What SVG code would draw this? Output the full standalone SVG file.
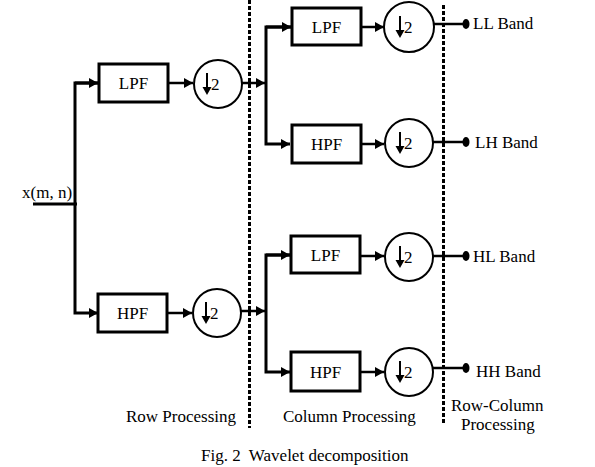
<svg xmlns="http://www.w3.org/2000/svg" width="595" height="467" viewBox="0 0 595 467">
<defs>
<style>
text{font-family:"Liberation Serif","Times New Roman",serif;font-size:17px;fill:#000}
.box{fill:#fff;stroke:#000;stroke-width:3}
.circ{fill:#fff;stroke:#000;stroke-width:2}
.ln{fill:none;stroke:#000;stroke-width:2.5}
.tr{stroke-width:3}
.dash{fill:none;stroke:#000;stroke-width:3;stroke-dasharray:4 2}
.c{text-anchor:middle}
</style>
<marker id="ah" markerUnits="userSpaceOnUse" markerWidth="10" markerHeight="10" refX="9" refY="5" orient="auto">
<path d="M0,0 L9,5 L0,10 Z" fill="#000"/>
</marker>
<g id="down">
<line x1="0" y1="-11" x2="0" y2="5" stroke="#000" stroke-width="2"/>
<path d="M-4.5,3 L4.5,3 L0,11 Z" fill="#000"/>
</g>
</defs>
<rect width="595" height="467" fill="#fff"/>

<g id="dividers">
<line class="dash" x1="249.5" y1="0" x2="249.5" y2="428"/>
<line class="dash" x1="443.5" y1="5" x2="443.5" y2="423"/>
</g>

<g id="connectors">
<line class="ln tr" x1="33" y1="204" x2="77" y2="204"/>
<polyline class="ln tr" points="99,83 75,83 75,313 98,313" marker-end="url(#ah)"/>
<line class="ln tr" x1="75" y1="83" x2="98" y2="83" marker-end="url(#ah)"/>
<line class="ln" x1="168" y1="83" x2="193" y2="83" marker-end="url(#ah)"/>
<line class="ln" x1="167" y1="313" x2="192" y2="313" marker-end="url(#ah)"/>
<line class="ln" x1="242" y1="83" x2="265" y2="83" marker-end="url(#ah)"/>
<line class="ln" x1="241" y1="311" x2="265" y2="311" marker-end="url(#ah)"/>
<polyline class="ln tr" points="291,27 266,27 266,144 290,144" marker-end="url(#ah)"/>
<line class="ln tr" x1="266" y1="27" x2="291" y2="27" marker-end="url(#ah)"/>
<polyline class="ln tr" points="290,255 266,255 266,372 290,372" marker-end="url(#ah)"/>
<line class="ln tr" x1="266" y1="255" x2="290" y2="255" marker-end="url(#ah)"/>
<line class="ln" x1="361" y1="27" x2="384" y2="27" marker-end="url(#ah)"/>
<line class="ln" x1="361" y1="144" x2="384" y2="144" marker-end="url(#ah)"/>
<line class="ln" x1="360" y1="256" x2="384" y2="256" marker-end="url(#ah)"/>
<line class="ln" x1="360" y1="372" x2="384" y2="372" marker-end="url(#ah)"/>
<line class="ln" x1="434" y1="24" x2="465" y2="24"/>
<line class="ln" x1="433" y1="142" x2="465" y2="142"/>
<line class="ln" x1="433" y1="256" x2="465" y2="256"/>
<line class="ln" x1="433" y1="368" x2="465" y2="368"/>
</g>

<g id="input"><text x="22" y="198">x(m, n)</text></g>

<g id="lpf1"><rect class="box" x="99" y="64" width="69" height="38"/><text class="c" x="133.5" y="89">LPF</text></g>
<g id="hpf1"><rect class="box" x="98" y="294" width="69" height="38"/><text class="c" x="132.5" y="319">HPF</text></g>
<g id="ds1"><circle class="circ" cx="218" cy="84" r="24"/><use href="#down" x="207" y="84"/><text x="211" y="90">2</text></g>
<g id="ds2"><circle class="circ" cx="217" cy="313" r="24"/><use href="#down" x="206" y="313"/><text x="210" y="319">2</text></g>

<g id="lpf2"><rect class="box" x="292" y="8" width="69" height="37"/><text class="c" x="326.5" y="33">LPF</text></g>
<g id="hpf2"><rect class="box" x="292" y="125" width="69" height="38"/><text class="c" x="326.5" y="150">HPF</text></g>
<g id="lpf3"><rect class="box" x="291" y="236" width="69" height="37"/><text class="c" x="325.5" y="261">LPF</text></g>
<g id="hpf3"><rect class="box" x="291" y="352" width="69" height="39"/><text class="c" x="325.5" y="378">HPF</text></g>

<g id="ds3"><circle class="circ" cx="409" cy="27" r="25"/><use href="#down" x="400" y="27"/><text x="404" y="33">2</text></g>
<g id="ds4"><circle class="circ" cx="409" cy="143" r="24"/><use href="#down" x="400" y="143"/><text x="404" y="149">2</text></g>
<g id="ds5"><circle class="circ" cx="409" cy="257" r="24"/><use href="#down" x="400" y="257"/><text x="404" y="263">2</text></g>
<g id="ds6"><circle class="circ" cx="409" cy="372" r="24"/><use href="#down" x="400" y="372"/><text x="404" y="378">2</text></g>

<g id="ll"><ellipse cx="466" cy="24" rx="3.5" ry="5"/><text x="473" y="29">LL Band</text></g>
<g id="lh"><ellipse cx="466" cy="142" rx="3.5" ry="5"/><text x="475" y="148">LH Band</text></g>
<g id="hl"><ellipse cx="466" cy="256" rx="3.5" ry="5"/><text x="473" y="262">HL Band</text></g>
<g id="hh"><ellipse cx="466" cy="368" rx="3.5" ry="5"/><text x="476" y="377">HH Band</text></g>

<g id="labels">
<text x="126" y="422">Row Processing</text>
<text x="283" y="422">Column Processing</text>
<text x="451" y="411">Row-Column</text>
<text x="461" y="430">Processing</text>
<text x="201" y="461" xml:space="preserve">Fig. 2  Wavelet decomposition</text>
</g>
</svg>
